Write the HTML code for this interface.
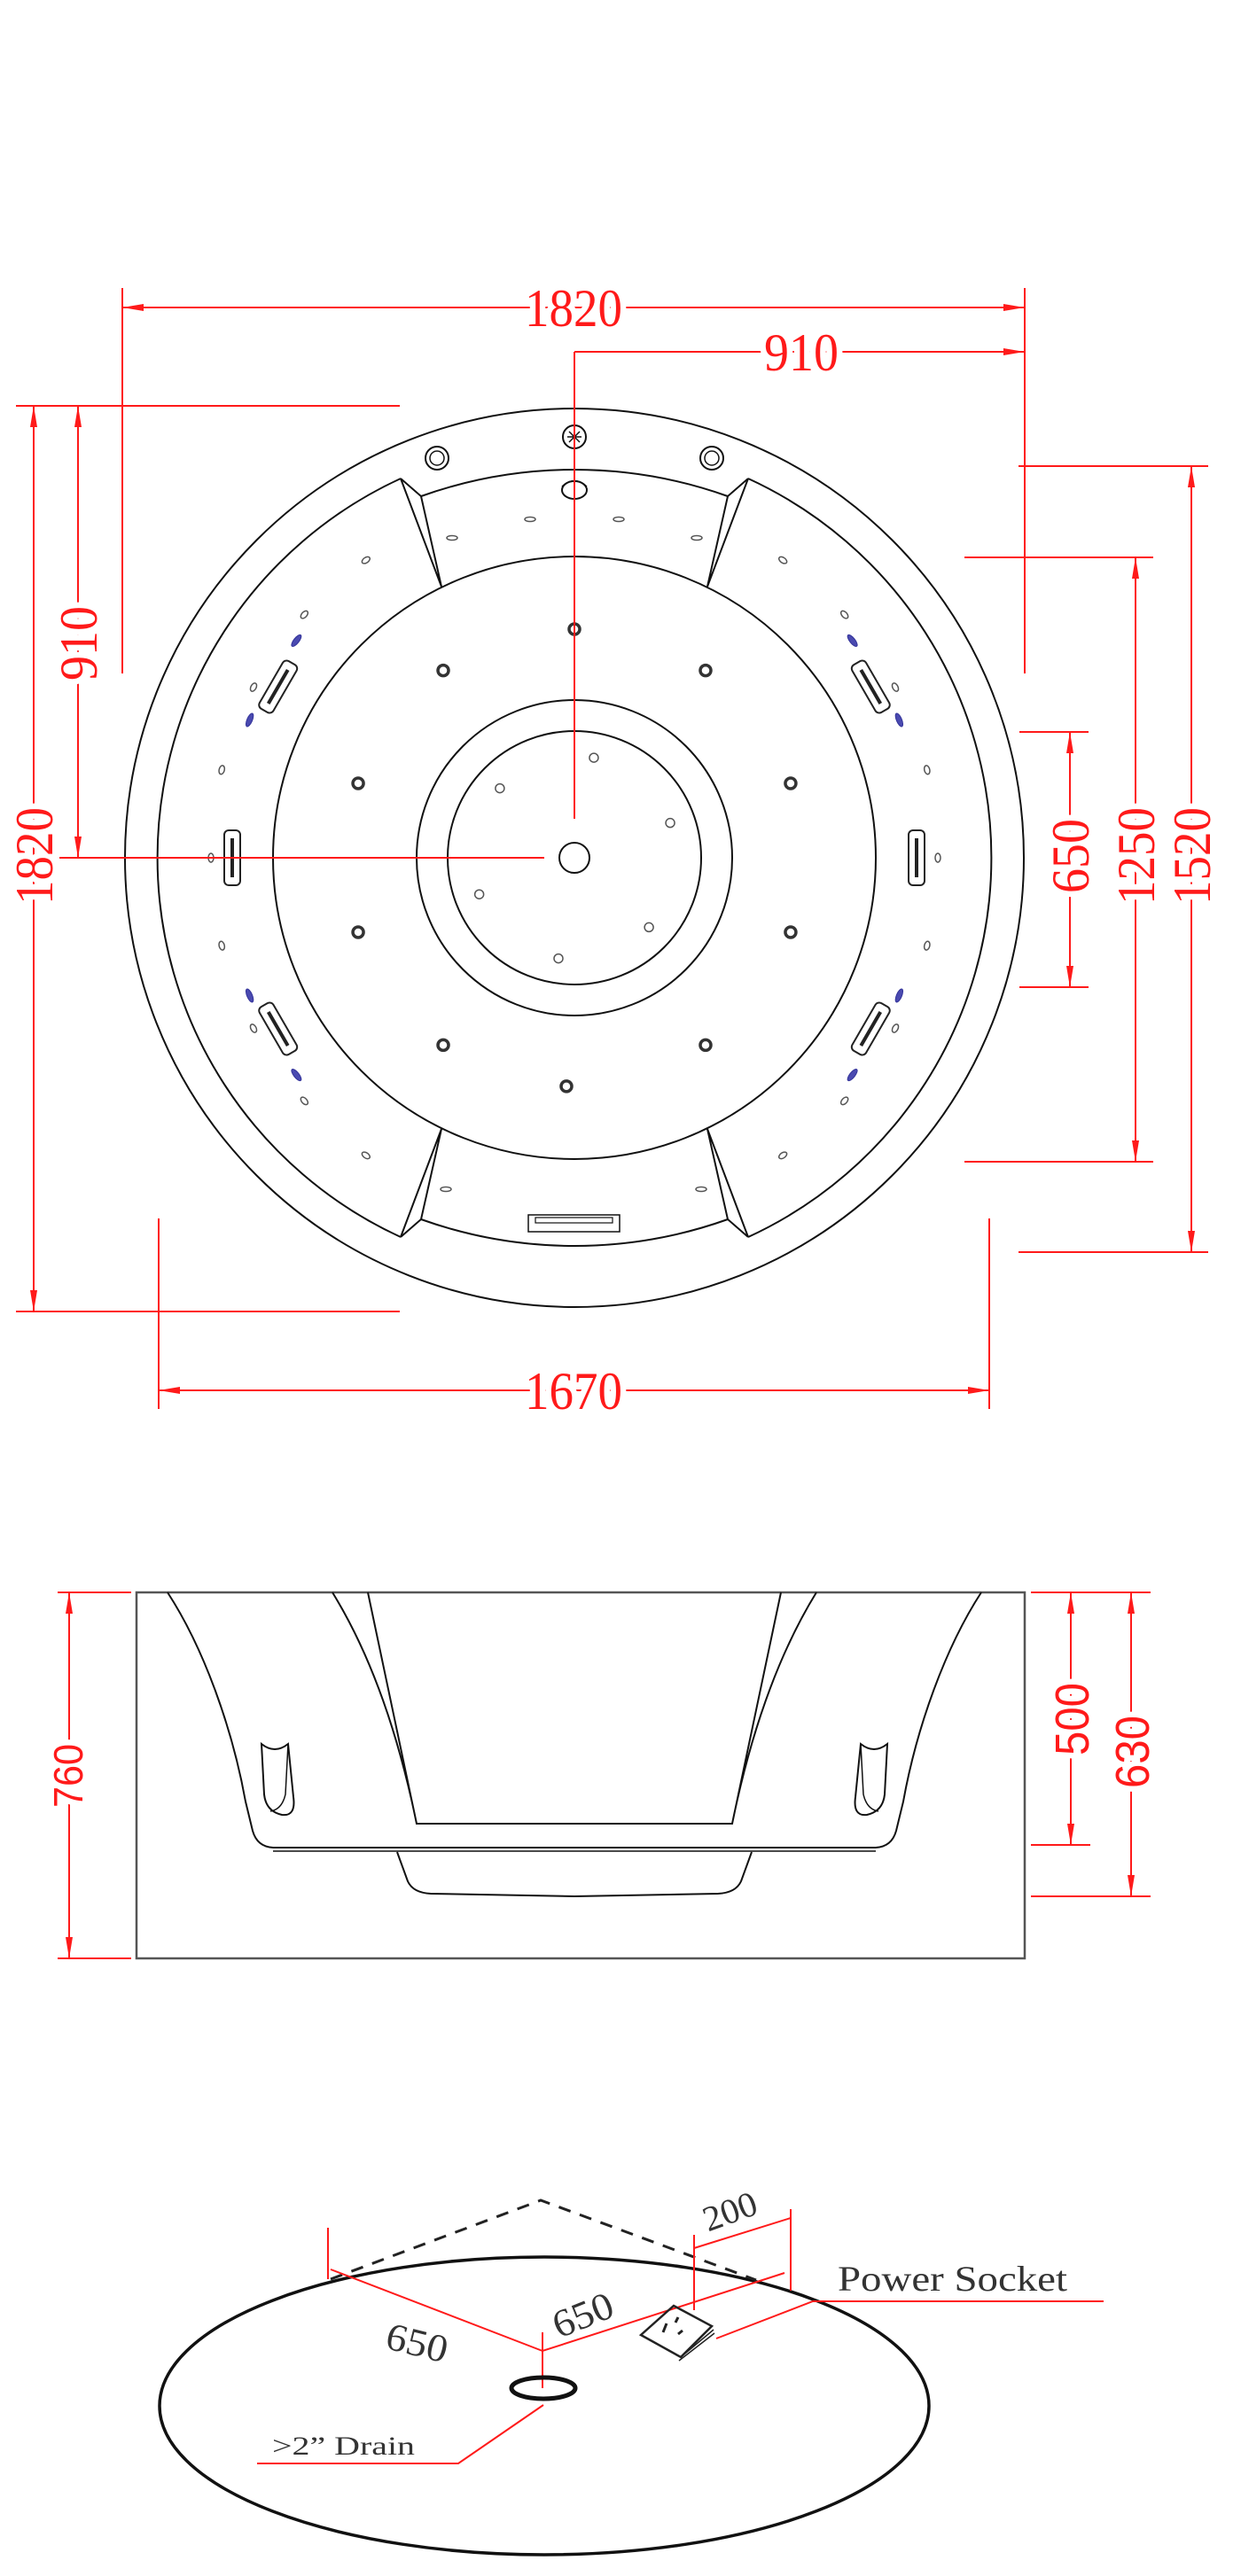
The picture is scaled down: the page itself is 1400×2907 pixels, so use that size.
<!DOCTYPE html>
<html><head><meta charset="utf-8"><style>
html,body{margin:0;padding:0;background:#fff}
svg{display:block}
.r{stroke:#ff1a1a;stroke-width:2;fill:none}
.k{stroke:#111;stroke-width:2;fill:none}
.dt{font-family:"Liberation Serif",serif;fill:#ff1a1a;paint-order:stroke;stroke:#fff;stroke-width:14px;stroke-linejoin:round}
.st{font-family:"Liberation Sans",sans-serif;fill:#ff1a1a;paint-order:stroke;stroke:#fff;stroke-width:14px}
.gt{font-family:"Liberation Serif",serif;fill:#333}
</style></head><body>
<svg id="s" width="1400" height="2907" viewBox="0 0 1400 2907" xmlns="http://www.w3.org/2000/svg">
<defs>
<marker id="a" viewBox="0 0 24 8" refX="24" refY="4" markerWidth="24" markerHeight="8" markerUnits="userSpaceOnUse" orient="auto-start-reverse"><path d="M0,0 L24,4 L0,8z" fill="#ff1a1a"/></marker>
</defs>

<!-- ===== PLAN VIEW ===== -->
<g class="k">
<circle cx="648" cy="968" r="507"/>
<path d="M452,540 A471 471 0 0 0 452 1396"/>
<path d="M844,540 A471 471 0 0 1 844 1396"/>
<path d="M475,560 A514 514 0 0 1 821 560"/>
<path d="M475,1376 A514 514 0 0 0 821 1376"/>
<path d="M452,540 L475,560 L498,662 M452,540 L498,662"/>
<path d="M844,540 L821,560 L798,662 M844,540 L798,662"/>
<path d="M452,1396 L475,1376 L498,1274 M452,1396 L498,1274"/>
<path d="M844,1396 L821,1376 L798,1274 M844,1396 L798,1274"/>
<circle cx="648" cy="968" r="340"/>
<circle cx="648" cy="968" r="178"/>
<circle cx="648" cy="968" r="143"/>
<circle cx="648" cy="968" r="17"/>
<!-- top fittings -->
<circle cx="648" cy="493" r="13"/>
<path d="M640,493 h16 M648,485 v16 M642,487 l12,12 M654,487 l-12,12" stroke-width="1.5"/>
<circle cx="493" cy="517" r="13"/><circle cx="493" cy="517" r="8" stroke-width="1.5"/>
<circle cx="803" cy="517" r="13"/><circle cx="803" cy="517" r="8" stroke-width="1.5"/>
<ellipse cx="648" cy="553" rx="14" ry="10"/>
<path d="M634,549 Q648,536 662,549" stroke-width="1.5"/>
<!-- control panel -->
<rect x="596" y="1371" width="103" height="19" stroke-width="1.5"/>
<rect x="604" y="1374" width="87" height="6" stroke-width="1.2"/>
</g>
<g id="jets"></g>

<!-- plan dimensions -->
<g class="r">
<line x1="138" y1="325" x2="138" y2="760"/>
<line x1="1156" y1="325" x2="1156" y2="760"/>
<line x1="138" y1="347" x2="1156" y2="347" marker-start="url(#a)" marker-end="url(#a)"/>
<line x1="648" y1="397" x2="1156" y2="397" marker-end="url(#a)"/>
<line x1="648" y1="397" x2="648" y2="924"/>
<line x1="67" y1="968" x2="614" y2="968"/>
<line x1="18" y1="458" x2="451" y2="458"/>
<line x1="18" y1="1480" x2="451" y2="1480"/>
<line x1="38" y1="458" x2="38" y2="1480" marker-start="url(#a)" marker-end="url(#a)"/>
<line x1="88" y1="458" x2="88" y2="968" marker-start="url(#a)" marker-end="url(#a)"/>
<line x1="1149" y1="526" x2="1363" y2="526"/>
<line x1="1149" y1="1413" x2="1363" y2="1413"/>
<line x1="1344" y1="526" x2="1344" y2="1413" marker-start="url(#a)" marker-end="url(#a)"/>
<line x1="1088" y1="629" x2="1301" y2="629"/>
<line x1="1088" y1="1311" x2="1301" y2="1311"/>
<line x1="1281" y1="629" x2="1281" y2="1311" marker-start="url(#a)" marker-end="url(#a)"/>
<line x1="1150" y1="826" x2="1228" y2="826"/>
<line x1="1150" y1="1114" x2="1228" y2="1114"/>
<line x1="1207" y1="826" x2="1207" y2="1114" marker-start="url(#a)" marker-end="url(#a)"/>
<line x1="179" y1="1375" x2="179" y2="1590"/>
<line x1="1116" y1="1375" x2="1116" y2="1590"/>
<line x1="179" y1="1569" x2="1116" y2="1569" marker-start="url(#a)" marker-end="url(#a)"/>
</g>
<text class="dt" x="647" y="368" font-size="60" text-anchor="middle" textLength="110" lengthAdjust="spacingAndGlyphs">1820</text>
<text class="dt" x="904" y="418" font-size="60" text-anchor="middle" textLength="84" lengthAdjust="spacingAndGlyphs">910</text>
<text class="dt" x="647" y="1590" font-size="60" text-anchor="middle" textLength="110" lengthAdjust="spacingAndGlyphs">1670</text>
<text class="dt" transform="translate(59,966) rotate(-90)" font-size="60" text-anchor="middle" textLength="110" lengthAdjust="spacingAndGlyphs">1820</text>
<text class="dt" transform="translate(109,726) rotate(-90)" font-size="60" text-anchor="middle" textLength="84" lengthAdjust="spacingAndGlyphs">910</text>
<text class="dt" transform="translate(1228,966) rotate(-90)" font-size="60" text-anchor="middle" textLength="84" lengthAdjust="spacingAndGlyphs">650</text>
<text class="dt" transform="translate(1302,966) rotate(-90)" font-size="60" text-anchor="middle" textLength="110" lengthAdjust="spacingAndGlyphs">1250</text>
<text class="dt" transform="translate(1365,966) rotate(-90)" font-size="60" text-anchor="middle" textLength="110" lengthAdjust="spacingAndGlyphs">1520</text>

<!-- ===== SIDE VIEW ===== -->
<g class="k">
<rect x="154" y="1797" width="1002" height="413" stroke-width="2.5" stroke="#555"/>
<path d="M189,1797 C230,1860 262,1950 277,2033 L285,2066 Q290,2084 308,2085 L988,2085 Q1006,2084 1011,2066 L1019,2033 C1034,1950 1066,1860 1107,1797"/>
<path d="M308,2089 L988,2089" stroke-width="1.5"/>
<path d="M375,1797 C420,1870 450,1960 470,2058 M415,1797 L470,2058 L826,2058 L881,1797 M921,1797 C876,1870 846,1960 826,2058"/>
<path d="M448,2090 L460,2123 Q466,2136 486,2137 L648,2140 L810,2137 Q830,2136 836,2123 L848,2090"/>
<path d="M295,1968 Q310,1980 325,1968 L331,2028 Q334,2050 318,2048 Q300,2044 298,2025 Z"/>
<path d="M325,1968 L322,2025 Q318,2042 305,2044" stroke-width="1.5"/>
<path d="M1001,1968 Q986,1980 971,1968 L965,2028 Q962,2050 978,2048 Q996,2044 998,2025 Z"/>
<path d="M971,1968 L974,2025 Q978,2042 991,2044" stroke-width="1.5"/>
</g>
<g class="r">
<line x1="65" y1="1797" x2="148" y2="1797"/>
<line x1="65" y1="2210" x2="148" y2="2210"/>
<line x1="78" y1="1797" x2="78" y2="2210" marker-start="url(#a)" marker-end="url(#a)"/>
<line x1="1163" y1="1797" x2="1298" y2="1797"/>
<line x1="1163" y1="2082" x2="1230" y2="2082"/>
<line x1="1163" y1="2140" x2="1298" y2="2140"/>
<line x1="1208" y1="1797" x2="1208" y2="2082" marker-start="url(#a)" marker-end="url(#a)"/>
<line x1="1276" y1="1797" x2="1276" y2="2140" marker-start="url(#a)" marker-end="url(#a)"/>
</g>
<text class="st" transform="translate(93,2004) rotate(-90)" font-size="46" text-anchor="middle" textLength="72" lengthAdjust="spacingAndGlyphs">760</text>
<text class="st" transform="translate(1228,1940) rotate(-90)" font-size="54" text-anchor="middle" textLength="82" lengthAdjust="spacingAndGlyphs">500</text>
<text class="st" transform="translate(1296,1977) rotate(-90)" font-size="54" text-anchor="middle" textLength="82" lengthAdjust="spacingAndGlyphs">630</text>

<!-- ===== FLOOR VIEW ===== -->
<ellipse cx="614" cy="2715" rx="434" ry="168" fill="none" stroke="#111" stroke-width="3.5"/>
<path d="M373,2572 L610,2483 L853,2573" fill="none" stroke="#222" stroke-width="3" stroke-dasharray="14,11"/>
<g class="r" stroke-width="2.5">
<line x1="370" y1="2514" x2="370" y2="2572"/>
<polyline points="373,2561 612,2653 885,2565"/>
<line x1="612" y1="2632" x2="612" y2="2695"/>
<line x1="783" y1="2522" x2="783" y2="2607"/>
<line x1="892" y1="2493" x2="892" y2="2585"/>
<line x1="783" y1="2537" x2="892" y2="2503"/>
<polyline points="808,2639 917,2597 1245,2597"/>
<polyline points="613,2714 517,2780 290,2780"/>
</g>
<ellipse cx="613" cy="2695" rx="36" ry="12" fill="none" stroke="#111" stroke-width="5"/>
<g fill="none" stroke="#222" stroke-width="2.5">
<path d="M723,2635 L760,2602 L803,2625 L768,2660 Z"/>
<path d="M768,2660 L805,2629 M766,2664 L806,2633" stroke-width="1.5"/>
<path d="M752,2622 l-4,10 M765,2615 l-3,6 M770,2630 l-5,4" stroke-width="3"/>
</g>
<text class="gt" transform="translate(467,2658) rotate(14)" font-size="44" text-anchor="middle" textLength="70" lengthAdjust="spacingAndGlyphs">650</text>
<text class="gt" transform="translate(663,2626) rotate(-22)" font-size="44" text-anchor="middle" textLength="70" lengthAdjust="spacingAndGlyphs">650</text>
<text class="gt" transform="translate(828,2508) rotate(-20)" font-size="40" text-anchor="middle" textLength="62" lengthAdjust="spacingAndGlyphs">200</text>
<text class="gt" x="945" y="2585" font-size="40" textLength="259" lengthAdjust="spacingAndGlyphs">Power Socket</text>
<text class="gt" x="307" y="2770" font-size="30" textLength="161" lengthAdjust="spacingAndGlyphs">&gt;2” Drain</text>
</svg>
<script>
(function(){
var g=document.getElementById('jets'),ns='http://www.w3.org/2000/svg',cx=648,cy=968;
function P(r,a){a=a*Math.PI/180;return [cx+r*Math.cos(a),cy+r*Math.sin(a)];}
function el(t,at){var e=document.createElementNS(ns,t);for(var k in at)e.setAttribute(k,at[k]);g.appendChild(e);return e;}
[-90,-125,-55,-161,-19,161,19,125,55,92].forEach(function(a){var p=P(258,a);el('circle',{cx:p[0],cy:p[1],r:6,fill:'none',stroke:'#333','stroke-width':3.5});});
[-79,-137,-20,159,43,99].forEach(function(a){var p=P(115,a);el('circle',{cx:p[0],cy:p[1],r:5,fill:'none',stroke:'#555','stroke-width':1.5});});
[-125,-138,-152,-166,180,166,152,138,125,-55,-42,-28,-14,0,14,28,42,55].forEach(function(a){var p=P(410,a);el('ellipse',{cx:p[0],cy:p[1],rx:3,ry:5,fill:'none',stroke:'#555','stroke-width':1.5,transform:'rotate('+a+' '+p[0]+' '+p[1]+')'});});
[-142,-157,142,157,-38,-23,38,23].forEach(function(a){var p=P(398,a);el('ellipse',{cx:p[0],cy:p[1],rx:3,ry:8,fill:'#4a4ab0',stroke:'#33339a','stroke-width':1,transform:'rotate('+a+' '+p[0]+' '+p[1]+')'});});
[180,-150,150,0,-30,30].forEach(function(a){var p=P(386,a);
el('rect',{x:p[0]-9,y:p[1]-31,width:18,height:62,rx:5,fill:'none',stroke:'#222','stroke-width':2,transform:'rotate('+a+' '+p[0]+' '+p[1]+')'});
el('line',{x1:p[0],y1:p[1]-22,x2:p[0],y2:p[1]+22,stroke:'#222','stroke-width':4,transform:'rotate('+a+' '+p[0]+' '+p[1]+')'});});
[[510,607],[598,586],[698,586],[786,607],[503,1342],[791,1342]].forEach(function(p){el('ellipse',{cx:p[0],cy:p[1],rx:6,ry:2.5,fill:'none',stroke:'#555','stroke-width':1.5});});
})();
</script>
</body></html>
